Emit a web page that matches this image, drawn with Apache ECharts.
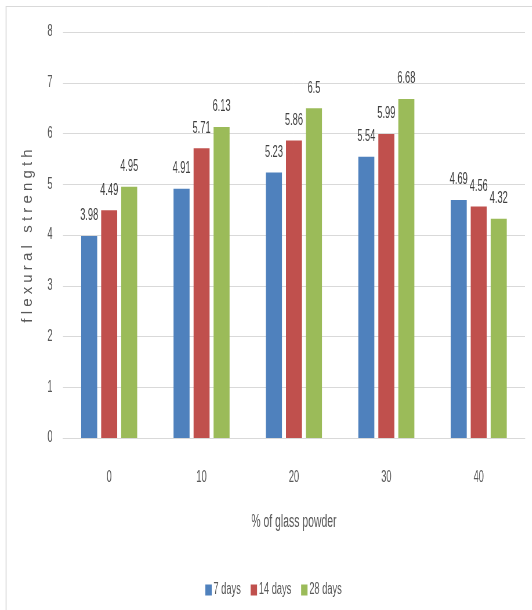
<!DOCTYPE html>
<html>
<head>
<meta charset="utf-8">
<style>
  html, body { margin: 0; padding: 0; background: #fff; overflow: hidden; }
  /* the chart is laid out wide, then condensed horizontally */
  #chart { width: 917px; height: 610px; transform: scaleX(0.58); transform-origin: 0 0; }
</style>
<script src="https://cdn.jsdelivr.net/npm/echarts@6/dist/echarts.min.js"></script>
</head>
<body>
<div id="chart"></div>
<script>
// Flexural strength by glass powder replacement level and curing age
const categories = ['0', '10', '20', '30', '40'];
const days7 = [3.98, 4.91, 5.23, 5.54, 4.69];
const days14 = [4.49, 5.71, 5.86, 5.99, 4.56];
const days28 = [4.95, 6.13, 6.5, 6.68, 4.32];
const seriesNames = ['7 days', '14 days', '28 days'];
const yTicks = [0, 1, 2, 3, 4, 5, 6, 7, 8];
const yTitle = 'f l e x u r a l   s t r e n g t h';
const xTitle = '% of glass powder';

const SQUEEZE = 0.58;
const font = "'Liberation Sans', Arial, sans-serif";
const colors = ['#4f81bd', '#c0504d', '#9bbb59'];

function barSeries(name, data, color) {
  return {
    name: name,
    type: 'bar',
    data: data,
    barWidth: 27.6,
    barGap: '25%',
    itemStyle: { color: color },
    label: {
      show: true,
      position: 'top',
      distance: 12,
      color: '#404040',
      fontFamily: font,
      fontSize: 16
    }
  };
}

const chart = echarts.init(document.getElementById('chart'));
chart.setOption({
  animation: false,
  backgroundColor: '#ffffff',
  grid: { left: 108.6, right: 12, top: 32, bottom: 172 },
  legend: {
    data: seriesNames,
    left: 349,
    top: 577,
    itemWidth: 11,
    itemHeight: 11,
    itemGap: 17,
    icon: 'rect',
    textStyle: { color: '#595959', fontFamily: font, fontSize: 16, padding: [0, 0, 0, -2] }
  },
  xAxis: {
    type: 'category',
    data: categories,
    name: xTitle,
    nameLocation: 'middle',
    nameGap: 75,
    nameTextStyle: { color: '#595959', fontFamily: font, fontSize: 18 },
    axisLine: { lineStyle: { color: '#d9d9d9', width: 1 } },
    axisTick: { show: false },
    axisLabel: { color: '#595959', fontFamily: font, fontSize: 16, margin: 32 }
  },
  yAxis: {
    type: 'value',
    min: yTicks[0],
    max: yTicks[yTicks.length - 1],
    interval: 1,
    axisLine: { show: false },
    axisTick: { show: false },
    splitLine: { lineStyle: { color: '#d9d9d9', width: 1 } },
    axisLabel: { color: '#595959', fontFamily: font, fontSize: 16, margin: 18 }
  },
  graphic: [
    // outer frame (left and top edges)
    { type: 'line', shape: { x1: 10.5, y1: 6, x2: 10.5, y2: 610 }, style: { stroke: '#d9d9d9', lineWidth: 1.7 } },
    { type: 'line', shape: { x1: 10, y1: 6.5, x2: 917, y2: 6.5 }, style: { stroke: '#d9d9d9', lineWidth: 1 } },
    // rotated value-axis title; glyphs widened so they keep their shape after the squeeze
    {
      type: 'text',
      x: 48,
      y: 236,
      rotation: Math.PI / 2,
      scaleY: 1 / SQUEEZE,
      style: {
        text: yTitle,
        fill: '#595959',
        fontFamily: font,
        fontSize: 15,
        align: 'center',
        verticalAlign: 'middle'
      }
    }
  ],
  series: [
    barSeries(seriesNames[0], days7, colors[0]),
    barSeries(seriesNames[1], days14, colors[1]),
    barSeries(seriesNames[2], days28, colors[2])
  ]
});
</script>
</body>
</html>
